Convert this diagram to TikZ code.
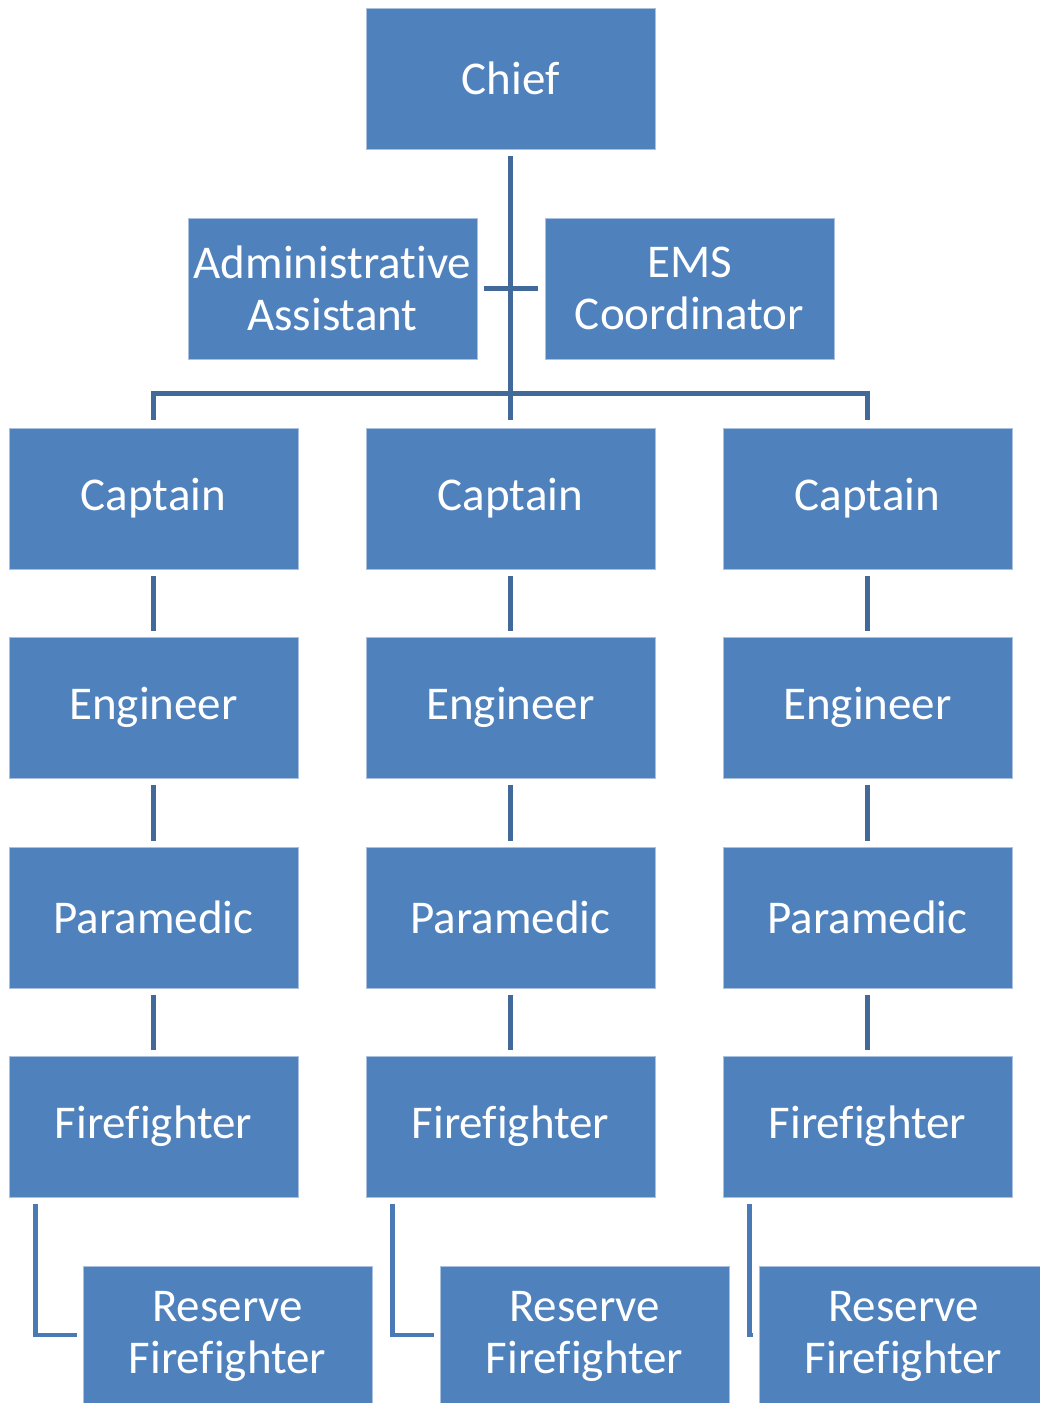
\documentclass[tikz,border=0pt]{standalone}
\usepackage{fontspec}
\setmainfont{Carlito}[RawFeature={-liga;-clig;-dlig}]
\definecolor{boxblue}{HTML}{4F81BD}
\definecolor{boxedge}{HTML}{A9C0DE}
\definecolor{linedark}{HTML}{41699A}
\definecolor{linelight}{HTML}{4A7AB5}
\tikzset{
    post/.style={rectangle, draw=boxedge, line width=0.5pt, fill=boxblue, text=white,
        minimum width=144.5pt, minimum height=70.5pt, inner sep=1pt, align=center,
        font=\fontsize{23.5}{26}\selectfont},
    link/.style={draw=linedark, line width=2.5pt},
    sublink/.style={draw=linelight, line width=2.3pt}
}
\begin{document}
\begin{tikzpicture}[x=0.5pt, y=-0.5pt]
        \useasboundingbox (0,0) rectangle (1039,1403);

        \node[post] (chief) at (510.5, 78.5) {Chief};
        \node[post] (admin) at (332.5, 288.5) {Administrative\\Assistant};
        \node[post] (ems) at (689.5, 288.5) {EMS\\Coordinator};

        \node[post] (capA) at (153.5, 498.5) {Captain};
        \node[post] (capB) at (510.5, 498.5) {Captain};
        \node[post] (capC) at (867.5, 498.5) {Captain};
        \node[post] (engA) at (153.5, 707.5) {Engineer};
        \node[post] (engB) at (510.5, 707.5) {Engineer};
        \node[post] (engC) at (867.5, 707.5) {Engineer};
        \node[post] (medA) at (153.5, 917.5) {Paramedic};
        \node[post] (medB) at (510.5, 917.5) {Paramedic};
        \node[post] (medC) at (867.5, 917.5) {Paramedic};
        \node[post] (ffA) at (153.5, 1126.5) {Firefighter};
        \node[post] (ffB) at (510.5, 1126.5) {Firefighter};
        \node[post] (ffC) at (867.5, 1126.5) {Firefighter};
        \node[post] (resA) at (227.5, 1336.5) {Reserve\\Firefighter};
        \node[post] (resB) at (584.5, 1336.5) {Reserve\\Firefighter};
        \node[post] (resC) at (903.5, 1336.5) {Reserve\\Firefighter};

        \coordinate (bar) at (510.5, 393);

        \draw[link] ([yshift=-3pt]chief.south) -- ([yshift=4pt]capB.north);
        \draw[link] ([xshift=3pt]admin.east) -- ([xshift=-3.5pt]ems.west);
        \draw[link] ([yshift=4pt]capA.north) |- (bar) -| ([yshift=4pt]capC.north);

        \draw[link] ([yshift=-3pt]capA.south) -- ([yshift=3pt]engA.north);
        \draw[link] ([yshift=-3pt]capB.south) -- ([yshift=3pt]engB.north);
        \draw[link] ([yshift=-3pt]capC.south) -- ([yshift=3pt]engC.north);
        \draw[link] ([yshift=-3pt]engA.south) -- ([yshift=3pt]medA.north);
        \draw[link] ([yshift=-3pt]engB.south) -- ([yshift=3pt]medB.north);
        \draw[link] ([yshift=-3pt]engC.south) -- ([yshift=3pt]medC.north);
        \draw[link] ([yshift=-3pt]medA.south) -- ([yshift=3pt]ffA.north);
        \draw[link] ([yshift=-3pt]medB.south) -- ([yshift=3pt]ffB.north);
        \draw[link] ([yshift=-3pt]medC.south) -- ([yshift=3pt]ffC.north);

        \draw[sublink] ([xshift=13.5pt,yshift=-3pt]ffA.south west) |- ([xshift=-3pt,yshift=0.75pt]resA.west);
        \draw[sublink] ([xshift=13.5pt,yshift=-3pt]ffB.south west) |- ([xshift=-3pt,yshift=0.75pt]resB.west);
        \draw[sublink] ([xshift=13.5pt,yshift=-3pt]ffC.south west) |- ([xshift=-3pt,yshift=0.75pt]resC.west);

    \end{tikzpicture}
\end{document}
